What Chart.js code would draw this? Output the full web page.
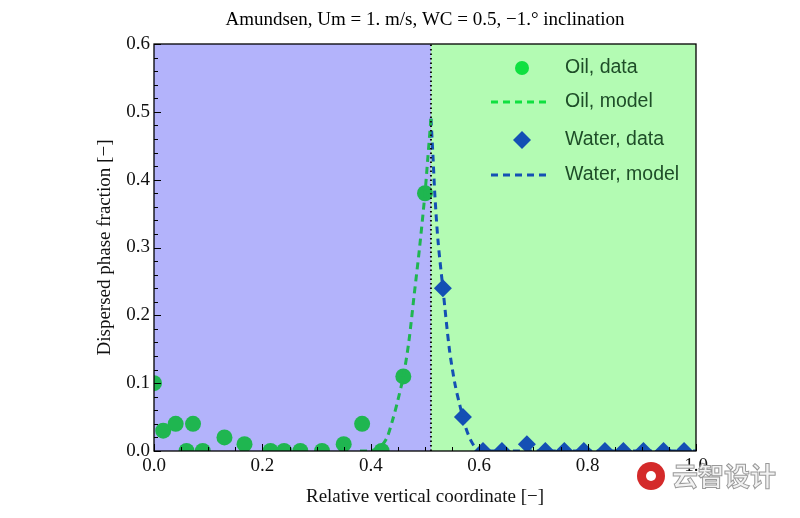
<!DOCTYPE html>
<html>
<head>
<meta charset="utf-8">
<script src="https://cdn.jsdelivr.net/npm/chart.js@4/dist/chart.umd.min.js"></script>
<style>
  html, body { margin: 0; padding: 0; background: #fff; }
  #wrap { width: 800px; height: 518px; position: relative; }
</style>
</head>
<body>
<div id="wrap"><canvas id="grafico" width="800" height="518"></canvas></div>
<script>
// Datos
const oilX = [0.0, 0.017, 0.04, 0.06, 0.072, 0.09, 0.13, 0.167, 0.215, 0.24, 0.27, 0.31, 0.35, 0.384, 0.42, 0.46, 0.50];
const oilY = [0.10, 0.03, 0.04, 0.0, 0.04, 0.0, 0.02, 0.01, 0.0, 0.0, 0.0, 0.0, 0.01, 0.04, 0.0, 0.11, 0.38];

const oilModelX = [0.38, 0.40, 0.41, 0.42, 0.43, 0.44, 0.45, 0.46, 0.47, 0.48, 0.49, 0.50, 0.505, 0.511];
const oilModelY = [0.0, 0.0, 0.003, 0.008, 0.02, 0.045, 0.075, 0.11, 0.16, 0.23, 0.30, 0.38, 0.43, 0.49];

const waterX = [0.533, 0.57, 0.607, 0.642, 0.688, 0.722, 0.757, 0.793, 0.832, 0.866, 0.903, 0.94, 0.978];
const waterY = [0.24, 0.05, 0.0, 0.0, 0.01, 0.0, 0.0, 0.0, 0.0, 0.0, 0.0, 0.0, 0.0];

const waterModelX = [0.511, 0.515, 0.518, 0.524, 0.533, 0.545, 0.555, 0.565, 0.575, 0.585, 0.595, 0.61, 0.7, 0.8, 0.9, 1.0];
const waterModelY = [0.49, 0.43, 0.38, 0.31, 0.24, 0.15, 0.10, 0.065, 0.035, 0.015, 0.004, 0.0, 0.0, 0.0, 0.0, 0.0];

const interfaz = 0.511;
const xTicks = [0.0, 0.2, 0.4, 0.6, 0.8, 1.0];
const yTicks = [0.0, 0.1, 0.2, 0.3, 0.4, 0.5, 0.6];

const leyenda = ["Oil, data", "Oil, model", "Water, data", "Water, model"];

const verdeDato = '#1fb650';
const azulDato = '#1450b4';
const serif = '"Liberation Serif", "Times New Roman", serif';

function pares(xs, ys) {
    return xs.map((x, i) => ({ x: x, y: ys[i] }));
}

// Fondo de dos colores, marco, marcas y leyenda
const plugFondo = {
    id: 'fondo',
    beforeDatasetsDraw(chart) {
        const { ctx, chartArea: a, scales } = chart;
        const xi = scales.x.getPixelForValue(interfaz);
        ctx.save();
        ctx.fillStyle = '#b3b3fb';
        ctx.fillRect(a.left, a.top, xi - a.left, a.bottom - a.top);
        ctx.fillStyle = '#b3fbb3';
        ctx.fillRect(xi, a.top, a.right - xi, a.bottom - a.top);
        ctx.restore();
    },
    afterDatasetsDraw(chart) {
        const { ctx, chartArea: a, scales } = chart;
        ctx.save();
        // marcas del eje x
        ctx.strokeStyle = '#000';
        ctx.lineWidth = 1;
        for (let v = 0; v <= 1.0001; v += 0.05) {
            const px = Math.round(scales.x.getPixelForValue(v)) + 0.5;
            const mayor = Math.abs(v / 0.2 - Math.round(v / 0.2)) < 1e-6;
            ctx.beginPath();
            ctx.moveTo(px, a.bottom);
            ctx.lineTo(px, a.bottom - (mayor ? 7 : 4));
            ctx.stroke();
        }
        for (let v = 0; v <= 0.6001; v += 0.02) {
            const py = Math.round(scales.y.getPixelForValue(v)) + 0.5;
            const mayor = Math.abs(v / 0.1 - Math.round(v / 0.1)) < 1e-6;
            ctx.beginPath();
            ctx.moveTo(a.left, py);
            ctx.lineTo(a.left + (mayor ? 7 : 4), py);
            ctx.stroke();
        }
        ctx.lineWidth = 1.3;
        ctx.strokeRect(a.left, a.top, a.right - a.left, a.bottom - a.top);

        // leyenda
        const filas = [68, 102, 140, 175];
        const mx = 522, tx = 565;
        ctx.font = '19.5px "Liberation Sans", Arial, sans-serif';
        ctx.textBaseline = 'middle';
        ctx.fillStyle = '#1e4d28';
        leyenda.forEach((t, i) => ctx.fillText(t, tx, filas[i]));
        ctx.fillStyle = '#10e040';
        ctx.beginPath();
        ctx.arc(mx, filas[0], 7, 0, Math.PI * 2);
        ctx.fill();
        ctx.strokeStyle = '#10e040';
        ctx.lineWidth = 3;
        ctx.setLineDash([7, 5]);
        ctx.beginPath();
        ctx.moveTo(491, filas[1]);
        ctx.lineTo(551, filas[1]);
        ctx.stroke();
        ctx.fillStyle = azulDato;
        ctx.beginPath();
        ctx.moveTo(mx, filas[2] - 9);
        ctx.lineTo(mx + 9, filas[2]);
        ctx.lineTo(mx, filas[2] + 9);
        ctx.lineTo(mx - 9, filas[2]);
        ctx.closePath();
        ctx.fill();
        ctx.strokeStyle = azulDato;
        ctx.beginPath();
        ctx.moveTo(491, filas[3]);
        ctx.lineTo(551, filas[3]);
        ctx.stroke();
        ctx.setLineDash([]);

        // titulo
        ctx.fillStyle = '#000';
        ctx.textAlign = 'center';
        ctx.font = '19px ' + serif;
        ctx.fillText('Amundsen, Um = 1. m/s, WC = 0.5, \u22121.\u00b0 inclination', 425, 20);

        // marca de agua
        ctx.textAlign = 'left';
        ctx.font = 'bold 26px "Noto Sans CJK SC", sans-serif';
        ctx.fillStyle = '#f2f2f2';
        ctx.strokeStyle = '#9a9a9a';
        ctx.lineWidth = 1;
        ctx.fillText('\u4e91\u667a\u8bbe\u8ba1', 672, 476);
        ctx.strokeText('\u4e91\u667a\u8bbe\u8ba1', 672, 476);
        ctx.fillStyle = '#d42a2a';
        ctx.beginPath();
        ctx.arc(651, 476, 14, 0, Math.PI * 2);
        ctx.fill();
        ctx.fillStyle = '#fff';
        ctx.beginPath();
        ctx.arc(651, 476, 5, 0, Math.PI * 2);
        ctx.fill();
        ctx.restore();
    }
};

function generarGrafico() {
    const ctx = document.getElementById('grafico').getContext('2d');
    new Chart(ctx, {
        type: 'scatter',
        data: {
            datasets: [
                {
                    label: 'interfaz',
                    data: [{ x: interfaz, y: 0 }, { x: interfaz, y: 0.6 }],
                    showLine: true,
                    borderColor: '#111',
                    borderWidth: 2,
                    borderDash: [1.5, 3],
                    pointRadius: 0
                },
                {
                    label: leyenda[1],
                    data: pares(oilModelX, oilModelY),
                    showLine: true,
                    borderColor: verdeDato,
                    borderWidth: 3,
                    borderDash: [7, 5],
                    pointRadius: 0,
                    tension: 0.3
                },
                {
                    label: leyenda[3],
                    data: pares(waterModelX, waterModelY),
                    showLine: true,
                    borderColor: azulDato,
                    borderWidth: 3,
                    borderDash: [7, 5],
                    pointRadius: 0,
                    tension: 0.3
                },
                {
                    label: leyenda[0],
                    data: pares(oilX, oilY),
                    backgroundColor: verdeDato,
                    borderWidth: 0,
                    pointRadius: 8
                },
                {
                    label: leyenda[2],
                    data: pares(waterX, waterY),
                    backgroundColor: azulDato,
                    borderWidth: 0,
                    pointStyle: 'rectRot',
                    pointRadius: 9
                }
            ]
        },
        options: {
            responsive: false,
            animation: false,
            layout: { padding: { left: 92, right: 104, top: 44, bottom: 6 } },
            plugins: {
                legend: { display: false },
                tooltip: { enabled: false }
            },
            scales: {
                x: {
                    type: 'linear',
                    min: 0, max: 1,
                    afterBuildTicks: s => { s.ticks = xTicks.map(v => ({ value: v })); },
                    afterFit: s => { s.height = 61; },
                    grid: { display: false, drawTicks: false },
                    border: { display: false },
                    ticks: {
                        color: '#111',
                        padding: 4,
                        font: { family: serif, size: 19 },
                        callback: v => v.toFixed(1)
                    },
                    title: {
                        display: true,
                        text: 'Relative vertical coordinate [\u2212]',
                        color: '#111',
                        font: { family: serif, size: 19 },
                        padding: { top: 6 }
                    }
                },
                y: {
                    type: 'linear',
                    min: 0, max: 0.6,
                    afterBuildTicks: s => { s.ticks = yTicks.map(v => ({ value: v })); },
                    afterFit: s => { s.width = 62; },
                    grid: { display: false, drawTicks: false },
                    border: { display: false },
                    ticks: {
                        color: '#111',
                        padding: 4,
                        font: { family: serif, size: 19 },
                        callback: v => v.toFixed(1)
                    },
                    title: {
                        display: true,
                        text: 'Dispersed phase fraction [\u2212]',
                        color: '#111',
                        font: { family: serif, size: 19 },
                        padding: { top: 2, bottom: 2 }
                    }
                }
            }
        },
        plugins: [plugFondo]
    });
}

window.onload = generarGrafico;
</script>
</body>
</html>
